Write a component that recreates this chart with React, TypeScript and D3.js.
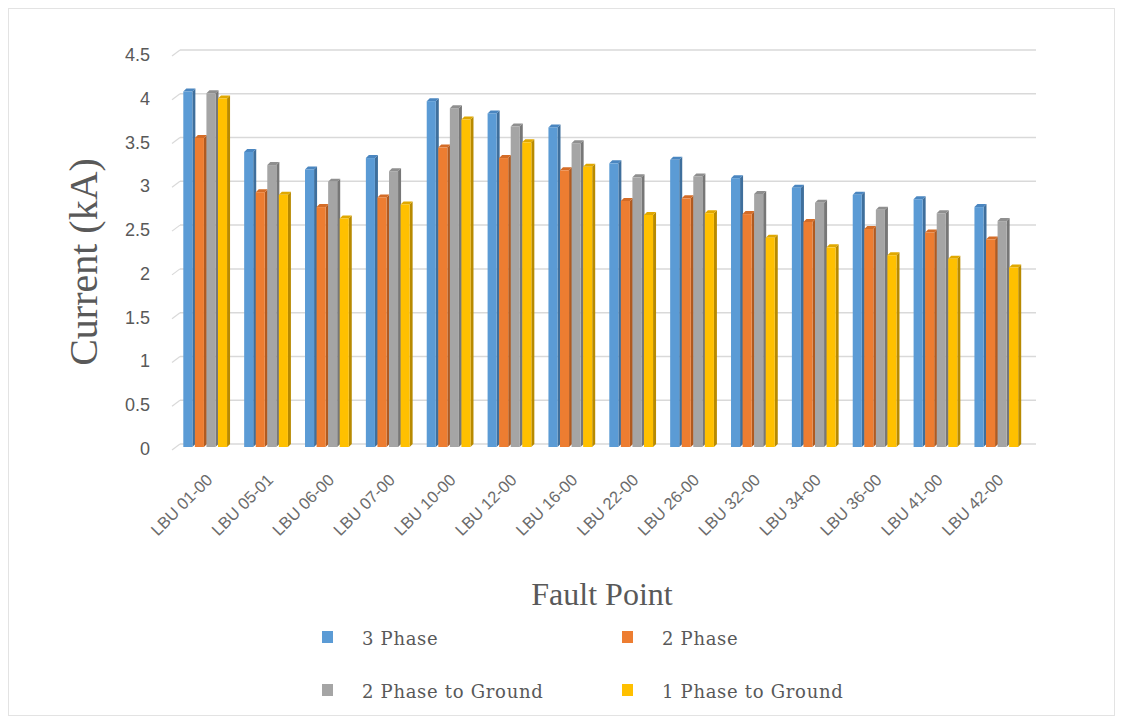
import React from "react";
import * as d3 from "d3";

// fault points and the four fault currents (kA)
const faultPoints = [
  "LBU 01-00", "LBU 05-01", "LBU 06-00", "LBU 07-00", "LBU 10-00", "LBU 12-00", "LBU 16-00",
  "LBU 22-00", "LBU 26-00", "LBU 32-00", "LBU 34-00", "LBU 36-00", "LBU 41-00", "LBU 42-00",
];
const threePhase = [4.06, 3.37, 3.17, 3.30, 3.95, 3.81, 3.65, 3.24, 3.28, 3.07, 2.96, 2.88, 2.83, 2.74];
const twoPhase = [3.53, 2.91, 2.74, 2.85, 3.42, 3.30, 3.16, 2.81, 2.84, 2.66, 2.57, 2.49, 2.45, 2.37];
const twoPhaseGround = [4.04, 3.22, 3.03, 3.15, 3.87, 3.66, 3.47, 3.08, 3.09, 2.89, 2.79, 2.71, 2.67, 2.58];
const onePhaseGround = [3.98, 2.88, 2.61, 2.77, 3.74, 3.48, 3.20, 2.65, 2.67, 2.39, 2.28, 2.19, 2.15, 2.05];
const yTicks = [0, 0.5, 1, 1.5, 2, 2.5, 3, 3.5, 4, 4.5];

const series = [
  { name: "3 Phase", values: threePhase, color: "#5b9bd5", side: "#3f6f9c", top: "#4a86c0" },
  { name: "2 Phase", values: twoPhase, color: "#ed7d31", side: "#b05a20", top: "#d46c27" },
  { name: "2 Phase to Ground", values: twoPhaseGround, color: "#a5a5a5", side: "#777777", top: "#8f8f8f" },
  { name: "1 Phase to Ground", values: onePhaseGround, color: "#ffc000", side: "#b88a00", top: "#e0a800" },
];

const W = 1123;
const H = 724;
const labelFont = "'Liberation Sans', Arial, sans-serif";
const titleFont = "'Liberation Serif', 'DejaVu Serif', serif";
const legendFont = "'DejaVu Serif', serif";

export default function App() {
  const x = d3.scaleBand<string>().domain(faultPoints).range([176, 1028]).paddingInner(0.24).paddingOuter(0.12);
  const x1 = d3.scaleBand<string>().domain(series.map(s => s.name)).range([0, x.bandwidth()]);
  const y = d3.scaleLinear().domain([0, 4.5]).range([447, 53]);
  const depth = 3;
  const bw = x1.bandwidth() - depth + 0.5;

  return (
    <svg width={W} height={H} style={{ position: "absolute", left: 0, top: 0, background: "#fff" }}>
      <rect x={8.5} y={8.5} width={W - 17} height={H - 17} fill="#fff" stroke="#e3e3e3" />

      {/* gridlines on the back wall */}
      {yTicks.map(t => (
        <g key={t}>
          <line x1={180} x2={1036} y1={y(t) - 3} y2={y(t) - 3} stroke="#d9d9d9" strokeWidth={1.5} />
          <line x1={172} x2={180} y1={y(t) + 3} y2={y(t) - 3} stroke="#d9d9d9" strokeWidth={1.2} />
          <text x={150} y={y(t) + 8} textAnchor="end" fontFamily={labelFont} fontSize={18} fill="#595959">
            {t}
          </text>
        </g>
      ))}

      {/* 3D-ish columns */}
      {faultPoints.map((fp, i) => (
        <g key={fp} transform={`translate(${x(fp)},0)`}>
          {series.map(s => {
            const bx = x1(s.name)!;
            const top = y(s.values[i]);
            const base = y(0);
            return (
              <g key={s.name}>
                <polygon
                  points={`${bx + bw},${top} ${bx + bw + depth},${top - depth} ${bx + bw + depth},${base - depth} ${bx + bw},${base}`}
                  fill={s.side}
                />
                <polygon
                  points={`${bx},${top} ${bx + depth},${top - depth} ${bx + bw + depth},${top - depth} ${bx + bw},${top}`}
                  fill={s.top}
                />
                <rect x={bx} y={top} width={bw} height={base - top} fill={s.color} />
              </g>
            );
          })}
        </g>
      ))}

      {/* category labels */}
      {faultPoints.map(fp => {
        const cx = x(fp)! + x.bandwidth() / 2 + 7;
        return (
          <text
            key={fp}
            transform={`translate(${cx},${481}) rotate(-45)`}
            textAnchor="end"
            fontFamily={labelFont}
            fontSize={16.5}
            fill="#6b6b6b"
          >
            {fp}
          </text>
        );
      })}

      <text
        transform={`translate(97,262) rotate(-90)`}
        textAnchor="middle"
        fontFamily={titleFont}
        fontSize={40}
        fill="#595959"
      >
        Current (kA)
      </text>
      <text x={602} y={605} textAnchor="middle" fontFamily={titleFont} fontSize={32} fill="#595959">
        Fault Point
      </text>

      {/* legend */}
      {series.map((s, i) => {
        const lx = i % 2 === 0 ? 322 : 622;
        const ly = i < 2 ? 639 : 692;
        return (
          <g key={s.name}>
            <rect x={lx} y={ly - 8} width={11} height={12} fill={s.color} />
            <text x={lx + 40} y={ly + 6} fontFamily={legendFont} fontSize={18} letterSpacing={0.7} fill="#595959">
              {s.name}
            </text>
          </g>
        );
      })}
    </svg>
  );
}
